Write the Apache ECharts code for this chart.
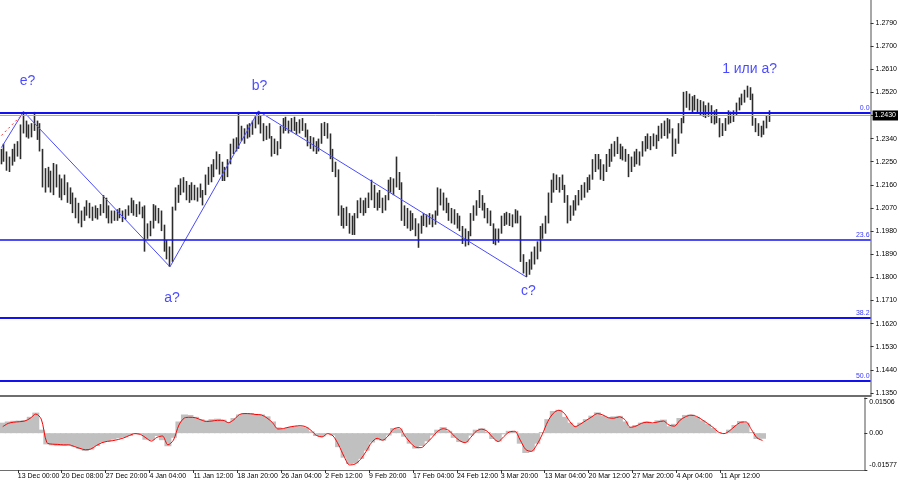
<!DOCTYPE html>
<html><head><meta charset="utf-8">
<script src="https://cdn.jsdelivr.net/npm/echarts@6/dist/echarts.min.js"></script>
<style>html,body{margin:0;padding:0;background:#fff}#c{width:900px;height:485px}</style>
</head><body><div id="c"></div>
<script>
// ---------- data ----------
const timeLabels = ['13 Dec 00:00','20 Dec 08:00','27 Dec 20:00','4 Jan 04:00','11 Jan 12:00','18 Jan 20:00','26 Jan 04:00','2 Feb 12:00','9 Feb 20:00','17 Feb 04:00','24 Feb 12:00','3 Mar 20:00','13 Mar 04:00','20 Mar 12:00','27 Mar 20:00','4 Apr 04:00','11 Apr 12:00'];

const opens = [
1.2260,1.2285,1.2265,1.2235,1.2255,1.2280,1.2300,1.2290,1.2380,1.2400,
1.2370,1.2360,1.2385,1.2395,1.2350,1.2300,1.2170,1.2190,1.2200,1.2160,
1.2210,1.2175,1.2140,1.2160,1.2130,1.2120,1.2105,1.2070,1.2050,1.2030,
1.2040,1.2060,1.2080,1.2050,1.2060,1.2050,1.2065,1.2075,1.2100,1.2050,
1.2030,1.2045,1.2035,1.2050,1.2045,1.2040,1.2055,1.2070,1.2085,1.2060,
1.2070,1.2060,1.2050,1.1960,1.1990,1.2005,1.2060,1.2050,1.2030,1.2000,
1.1920,1.1890,1.1880,1.2060,1.2120,1.2130,1.2170,1.2150,1.2120,1.2140,
1.2150,1.2115,1.2130,1.2120,1.2130,1.2190,1.2200,1.2225,1.2240,1.2250,
1.2220,1.2200,1.2215,1.2250,1.2300,1.2320,1.2310,1.2350,1.2350,1.2365,
1.2380,1.2370,1.2395,1.2420,1.2410,1.2380,1.2350,1.2370,1.2350,1.2300,
1.2320,1.2310,1.2375,1.2400,1.2390,1.2380,1.2405,1.2385,1.2375,1.2400,
1.2380,1.2360,1.2330,1.2320,1.2310,1.2300,1.2330,1.2380,1.2390,1.2360,
1.2280,1.2230,1.2210,1.2060,1.2030,1.2040,1.2020,1.2000,1.2010,1.2040,
1.2080,1.2070,1.2060,1.2090,1.2110,1.2150,1.2090,1.2110,1.2080,1.2070,
1.2100,1.2160,1.2150,1.2170,1.2190,1.2160,1.2040,1.2050,1.2020,1.2040,
1.2000,1.1990,1.1980,1.2030,1.2020,1.2030,1.2025,1.2020,1.2050,1.2130,
1.2110,1.2080,1.2070,1.2040,1.2050,1.2020,1.2010,1.2000,1.1960,1.1950,
1.1970,1.2030,1.2060,1.2090,1.2110,1.2080,1.2050,1.2030,1.2010,1.1960,
1.1950,1.1975,1.2020,1.2030,1.2040,1.2020,1.2030,1.2045,1.2030,1.1880,
1.1840,1.1830,1.1850,1.1880,1.1900,1.1920,1.1980,1.1990,1.2020,1.2110,
1.2160,1.2170,1.2160,1.2170,1.2150,1.2110,1.2040,1.2060,1.2080,1.2100,
1.2120,1.2140,1.2150,1.2170,1.2190,1.2240,1.2260,1.2240,1.2200,1.2220,
1.2260,1.2280,1.2300,1.2310,1.2320,1.2290,1.2280,1.2270,1.2220,1.2250,
1.2270,1.2260,1.2275,1.2310,1.2330,1.2320,1.2340,1.2330,1.2340,1.2370,
1.2385,1.2380,1.2400,1.2380,1.2300,1.2330,1.2390,1.2410,1.2500,1.2490,
1.2470,1.2490,1.2480,1.2460,1.2470,1.2450,1.2440,1.2460,1.2420,1.2430,
1.2410,1.2370,1.2390,1.2400,1.2430,1.2420,1.2440,1.2470,1.2490,1.2505,
1.2520,1.2530,1.2510,1.2410,1.2380,1.2370,1.2360,1.2400,1.2420];

const highs = [
1.2300,1.2320,1.2290,1.2270,1.2300,1.2320,1.2330,1.2395,1.2445,1.2410,
1.2395,1.2400,1.2444,1.2410,1.2400,1.2300,1.2225,1.2230,1.2215,1.2245,
1.2240,1.2200,1.2185,1.2200,1.2170,1.2150,1.2130,1.2110,1.2090,1.2060,
1.2075,1.2100,1.2090,1.2075,1.2080,1.2070,1.2085,1.2120,1.2110,1.2080,
1.2060,1.2060,1.2065,1.2070,1.2060,1.2065,1.2080,1.2110,1.2100,1.2085,
1.2095,1.2075,1.2080,1.2010,1.2020,1.2085,1.2080,1.2070,1.2060,1.2005,
1.1945,1.1920,1.2075,1.2150,1.2160,1.2185,1.2190,1.2175,1.2160,1.2170,
1.2160,1.2150,1.2165,1.2140,1.2200,1.2230,1.2240,1.2260,1.2290,1.2280,
1.2250,1.2230,1.2260,1.2320,1.2340,1.2345,1.2440,1.2390,1.2380,1.2395,
1.2400,1.2410,1.2430,1.2447,1.2430,1.2400,1.2390,1.2400,1.2350,1.2340,
1.2330,1.2390,1.2420,1.2425,1.2410,1.2420,1.2425,1.2405,1.2415,1.2420,
1.2400,1.2375,1.2350,1.2345,1.2330,1.2340,1.2400,1.2405,1.2400,1.2360,
1.2300,1.2250,1.2220,1.2080,1.2070,1.2075,1.2050,1.2040,1.2050,1.2100,
1.2110,1.2100,1.2110,1.2130,1.2180,1.2160,1.2130,1.2140,1.2110,1.2120,
1.2180,1.2190,1.2185,1.2270,1.2210,1.2170,1.2080,1.2070,1.2060,1.2050,
1.2030,1.2010,1.2040,1.2050,1.2045,1.2050,1.2045,1.2060,1.2150,1.2145,
1.2130,1.2110,1.2090,1.2070,1.2065,1.2050,1.2040,1.2000,1.1990,1.1980,
1.2050,1.2080,1.2100,1.2140,1.2120,1.2090,1.2070,1.2060,1.2010,1.1990,
1.1990,1.2040,1.2050,1.2055,1.2050,1.2045,1.2065,1.2060,1.2040,1.1890,
1.1860,1.1870,1.1900,1.1920,1.1940,1.2000,1.2010,1.2040,1.2130,1.2180,
1.2205,1.2200,1.2190,1.2200,1.2160,1.2120,1.2080,1.2100,1.2120,1.2140,
1.2160,1.2170,1.2190,1.2200,1.2260,1.2280,1.2280,1.2260,1.2240,1.2280,
1.2300,1.2320,1.2330,1.2347,1.2320,1.2310,1.2300,1.2280,1.2270,1.2290,
1.2300,1.2290,1.2330,1.2350,1.2360,1.2350,1.2360,1.2355,1.2390,1.2400,
1.2410,1.2420,1.2415,1.2380,1.2340,1.2400,1.2420,1.2522,1.2525,1.2515,
1.2505,1.2510,1.2495,1.2490,1.2485,1.2470,1.2480,1.2470,1.2450,1.2455,
1.2420,1.2400,1.2420,1.2450,1.2445,1.2450,1.2480,1.2500,1.2515,1.2530,
1.2546,1.2540,1.2515,1.2420,1.2400,1.2390,1.2410,1.2430,1.2450];

const lows = [
1.2240,1.2250,1.2215,1.2210,1.2235,1.2250,1.2270,1.2260,1.2360,1.2345,
1.2340,1.2345,1.2370,1.2335,1.2290,1.2150,1.2130,1.2150,1.2130,1.2120,
1.2150,1.2110,1.2100,1.2120,1.2090,1.2085,1.2050,1.2030,1.2010,1.1995,
1.2020,1.2040,1.2030,1.2020,1.2030,1.2025,1.2040,1.2050,1.2030,1.2010,
1.2010,1.2020,1.2020,1.2030,1.2015,1.2025,1.2040,1.2050,1.2040,1.2035,
1.2045,1.2030,1.1900,1.1950,1.1960,1.1990,1.2020,1.2010,1.1980,1.1900,
1.1870,1.1841,1.1860,1.2060,1.2090,1.2120,1.2130,1.2100,1.2090,1.2100,
1.2100,1.2095,1.2110,1.2080,1.2120,1.2160,1.2170,1.2190,1.2220,1.2200,
1.2175,1.2175,1.2190,1.2240,1.2280,1.2290,1.2300,1.2330,1.2320,1.2340,
1.2345,1.2355,1.2380,1.2395,1.2360,1.2330,1.2335,1.2340,1.2270,1.2280,
1.2275,1.2300,1.2360,1.2370,1.2360,1.2365,1.2370,1.2355,1.2360,1.2370,
1.2345,1.2310,1.2300,1.2290,1.2280,1.2290,1.2320,1.2350,1.2340,1.2260,
1.2210,1.2190,1.2040,1.2000,1.1990,1.2000,1.1970,1.1965,1.1965,1.2030,
1.2050,1.2040,1.2050,1.2070,1.2100,1.2070,1.2060,1.2070,1.2050,1.2060,
1.2100,1.2130,1.2120,1.2150,1.2140,1.2020,1.2000,1.1990,1.1980,1.1985,
1.1960,1.1915,1.1970,1.2000,1.1995,1.2005,1.1995,1.2005,1.2040,1.2080,
1.2060,1.2050,1.2020,1.2010,1.2005,1.1990,1.1980,1.1930,1.1920,1.1925,
1.1960,1.2020,1.2040,1.2070,1.2060,1.2030,1.2010,1.2000,1.1930,1.1925,
1.1935,1.1970,1.2000,1.2005,1.2000,1.1995,1.2010,1.2010,1.1860,1.1815,
1.1801,1.1810,1.1830,1.1850,1.1870,1.1900,1.1950,1.1970,1.2010,1.2090,
1.2130,1.2140,1.2130,1.2140,1.2090,1.2010,1.2020,1.2040,1.2060,1.2080,
1.2100,1.2110,1.2130,1.2140,1.2180,1.2210,1.2220,1.2180,1.2175,1.2210,
1.2230,1.2250,1.2270,1.2280,1.2260,1.2255,1.2250,1.2190,1.2210,1.2230,
1.2240,1.2235,1.2270,1.2290,1.2300,1.2295,1.2310,1.2300,1.2330,1.2340,
1.2350,1.2340,1.2360,1.2270,1.2280,1.2320,1.2360,1.2400,1.2460,1.2450,
1.2440,1.2450,1.2440,1.2430,1.2425,1.2420,1.2425,1.2400,1.2395,1.2400,
1.2345,1.2350,1.2370,1.2395,1.2400,1.2405,1.2430,1.2450,1.2470,1.2480,
1.2500,1.2490,1.2390,1.2365,1.2350,1.2345,1.2355,1.2380,1.2405];

const closes = [
1.2285,1.2265,1.2235,1.2255,1.2280,1.2300,1.2290,1.2380,1.2400,1.2370,
1.2360,1.2385,1.2395,1.2350,1.2300,1.2170,1.2190,1.2200,1.2160,1.2210,
1.2175,1.2140,1.2160,1.2130,1.2120,1.2105,1.2070,1.2050,1.2030,1.2040,
1.2060,1.2080,1.2050,1.2060,1.2050,1.2065,1.2075,1.2100,1.2050,1.2030,
1.2045,1.2035,1.2050,1.2045,1.2040,1.2055,1.2070,1.2085,1.2060,1.2070,
1.2060,1.2050,1.1960,1.1990,1.2005,1.2060,1.2050,1.2030,1.2000,1.1920,
1.1890,1.1880,1.2060,1.2120,1.2130,1.2170,1.2150,1.2120,1.2140,1.2150,
1.2115,1.2130,1.2120,1.2130,1.2190,1.2200,1.2225,1.2240,1.2250,1.2220,
1.2200,1.2215,1.2250,1.2300,1.2320,1.2310,1.2350,1.2350,1.2365,1.2380,
1.2370,1.2395,1.2420,1.2410,1.2380,1.2350,1.2370,1.2350,1.2300,1.2320,
1.2310,1.2375,1.2400,1.2390,1.2380,1.2405,1.2385,1.2375,1.2400,1.2380,
1.2360,1.2330,1.2320,1.2310,1.2300,1.2330,1.2380,1.2390,1.2360,1.2280,
1.2230,1.2210,1.2060,1.2030,1.2040,1.2020,1.2000,1.2010,1.2040,1.2080,
1.2070,1.2060,1.2090,1.2110,1.2150,1.2090,1.2110,1.2080,1.2070,1.2100,
1.2160,1.2150,1.2170,1.2190,1.2160,1.2040,1.2050,1.2020,1.2040,1.2000,
1.1990,1.1980,1.2030,1.2020,1.2030,1.2025,1.2020,1.2050,1.2130,1.2110,
1.2080,1.2070,1.2040,1.2050,1.2020,1.2010,1.2000,1.1960,1.1950,1.1970,
1.2030,1.2060,1.2090,1.2110,1.2080,1.2050,1.2030,1.2010,1.1960,1.1950,
1.1975,1.2020,1.2030,1.2040,1.2020,1.2030,1.2045,1.2030,1.1880,1.1840,
1.1830,1.1850,1.1880,1.1900,1.1920,1.1980,1.1990,1.2020,1.2110,1.2160,
1.2170,1.2160,1.2170,1.2150,1.2110,1.2040,1.2060,1.2080,1.2100,1.2120,
1.2140,1.2150,1.2170,1.2190,1.2240,1.2260,1.2240,1.2200,1.2220,1.2260,
1.2280,1.2300,1.2310,1.2320,1.2290,1.2280,1.2270,1.2220,1.2250,1.2270,
1.2260,1.2275,1.2310,1.2330,1.2320,1.2340,1.2330,1.2340,1.2370,1.2385,
1.2380,1.2400,1.2380,1.2300,1.2330,1.2390,1.2410,1.2500,1.2490,1.2470,
1.2490,1.2480,1.2460,1.2470,1.2450,1.2440,1.2460,1.2420,1.2430,1.2410,
1.2370,1.2390,1.2400,1.2430,1.2420,1.2440,1.2470,1.2490,1.2505,1.2520,
1.2530,1.2510,1.2410,1.2380,1.2370,1.2360,1.2400,1.2420,1.2430];

const macdHist = [
0.0045,0.0050,0.0053,0.0054,0.0056,0.0070,0.0088,0.0015,-0.0048,-0.0052,
-0.0054,-0.0055,-0.0053,-0.0058,-0.0068,-0.0076,-0.0070,-0.0055,-0.0040,-0.0036,
-0.0028,-0.0022,-0.0018,-0.0012,-0.0004,-0.0006,-0.0028,-0.0030,-0.0012,-0.0030,
-0.0056,-0.0020,0.0050,0.0080,0.0078,0.0070,0.0060,0.0055,0.0060,0.0062,
0.0058,0.0048,0.0065,0.0080,0.0086,0.0086,0.0082,0.0080,0.0072,0.0050,
0.0025,0.0018,0.0026,0.0030,0.0029,0.0025,0.0008,-0.0012,-0.0015,-0.0003,
-0.0010,-0.0060,-0.0105,-0.0132,-0.0130,-0.0110,-0.0075,-0.0040,-0.0028,-0.0032,
-0.0010,0.0022,0.0020,-0.0015,-0.0045,-0.0066,-0.0055,-0.0035,-0.0010,0.0015,
0.0026,0.0010,-0.0020,-0.0038,-0.0040,-0.0010,0.0015,0.0021,0.0005,-0.0025,
-0.0035,-0.0005,0.0010,0.0008,-0.0045,-0.0085,-0.0078,-0.0045,0.0005,0.0060,
0.0095,0.0100,0.0070,0.0045,0.0032,0.0045,0.0060,0.0075,0.0089,0.0075,
0.0068,0.0072,0.0074,0.0050,0.0028,0.0035,0.0045,0.0050,0.0042,0.0055,
0.0058,0.0030,0.0040,0.0065,0.0078,0.0080,0.0070,0.0055,0.0040,0.0022,
0.0003,-0.0002,0.0015,0.0035,0.0052,0.0045,0.0005,-0.0025,-0.0024];

const macdSignal = [
0.0028,0.0042,0.0047,0.0049,0.0052,0.0064,0.0082,0.0060,-0.0040,-0.0047,
-0.0048,-0.0050,-0.0050,-0.0057,-0.0065,-0.0071,-0.0068,-0.0053,-0.0041,-0.0035,
-0.0032,-0.0027,-0.0020,-0.0010,-0.0002,-0.0005,-0.0020,-0.0034,-0.0018,-0.0012,
-0.0050,-0.0030,0.0035,0.0065,0.0068,0.0066,0.0057,0.0050,0.0052,0.0055,
0.0055,0.0045,0.0058,0.0080,0.0084,0.0083,0.0080,0.0078,0.0065,0.0045,
0.0018,0.0020,0.0026,0.0030,0.0032,0.0028,0.0012,-0.0010,-0.0016,-0.0002,
-0.0012,-0.0050,-0.0100,-0.0136,-0.0132,-0.0112,-0.0078,-0.0040,-0.0022,-0.0030,
-0.0012,0.0018,0.0024,-0.0010,-0.0040,-0.0060,-0.0062,-0.0042,-0.0018,0.0008,
0.0019,0.0012,-0.0012,-0.0032,-0.0041,-0.0018,0.0008,0.0017,0.0008,-0.0018,
-0.0036,-0.0015,0.0005,0.0008,-0.0030,-0.0070,-0.0078,-0.0050,-0.0005,0.0050,
0.0085,0.0098,0.0085,0.0050,0.0028,0.0040,0.0055,0.0070,0.0084,0.0078,
0.0066,0.0064,0.0070,0.0058,0.0025,0.0030,0.0042,0.0047,0.0044,0.0048,
0.0052,0.0035,0.0030,0.0055,0.0070,0.0077,0.0072,0.0058,0.0042,0.0025,
0.0005,-0.0002,0.0010,0.0030,0.0046,0.0048,0.0015,-0.0020,-0.0031];

const priceTicks = [1.1350,1.1440,1.1530,1.1620,1.1710,1.1800,1.1890,1.1980,1.2070,1.2160,1.2250,1.2340,1.2430,1.2520,1.2610,1.2700,1.2790,1.2880];
const macdTicks = [0.01506, 0.00, -0.01577];

const fibNames  = ['0.0','23.6','38.2','50.0'];
const fibPrices = [1.2442, 1.1948, 1.1643, 1.1398];

const pivotBars   = [8, 61, 93, 190, 270];
const pivotPrices = [1.2445, 1.1841, 1.2447, 1.1801, 1.2546];
const pivotLabels = ['e?', 'a?', 'b?', 'c?', '1 или a?'];
const leadBars = [0, 8],  leadPrices = [1.2305, 1.2445];
const redBars  = [0, 7],  redPrices  = [1.2352, 1.2428];

// ---------- layout / style ----------
const FONT = "'Liberation Sans', Arial, sans-serif";
const SLOTS = 315, MACD_SLOTS = 157, LABEL_START = 6, LABEL_EVERY = 16;
const BLUE = '#1212f0', WAVE = '#4a4aff', BAR = '#2c2c2c';
const pivotLabelStyle = [
  {position:'top', distance:23, offset:[4,0]},
  {position:'bottom', distance:24, offset:[2,0]},
  {position:'top', distance:18, offset:[1,0]},
  {position:'bottom', distance:7, offset:[2,0]},
  {position:'top', distance:10, offset:[2,0]}
];
const fibWidths = [2, 1.5, 2, 2];

const slots = Array.from({length: SLOTS}, (_, i) => String(i));
const macdSlots = Array.from({length: MACD_SLOTS}, (_, i) => String(i));
const ohlc = closes.map((c, i) => [opens[i], c, lows[i], highs[i]]);
const lastPrice = closes[closes.length - 1];
const showLabel = (i) => i >= LABEL_START && (i - LABEL_START) % LABEL_EVERY === 0 && (i - LABEL_START) / LABEL_EVERY < timeLabels.length;

const levelLines = fibPrices.map((p, i) => ({
  yAxis: p,
  lineStyle:{color:BLUE, width:fibWidths[i], type:'solid'},
  label:{show:true, position:'insideEndTop', formatter: fibNames[i], color:'#3a3aff', fontSize:7, distance:[1,1], fontFamily:FONT}
})).concat([{
  yAxis: lastPrice,
  lineStyle:{color:'#a9a9a9', width:1, type:'solid'},
  label:{show:true, position:'end', formatter: lastPrice.toFixed(4), color:'#fff', backgroundColor:'#000',
         padding:[2,2,1,2], fontSize:7, distance:2, fontFamily:FONT}
}]);

const chart = echarts.init(document.getElementById('c'), null, {renderer: 'canvas'});
chart.setOption({
  animation: false,
  backgroundColor: '#ffffff',
  textStyle: {fontFamily: FONT},
  grid: [
    {left: 0, right: 29, top: 0, height: 396},
    {left: 0, right: 29, top: 398, height: 72}
  ],
  xAxis: [
    {type:'category', gridIndex:0, data: slots, boundaryGap:true,
     axisLine:{show:true, onZero:false, lineStyle:{color:'#6e6e6e', width:2}},
     axisTick:{show:false}, axisLabel:{show:false}, splitLine:{show:false}},
    {type:'category', gridIndex:1, data: macdSlots, boundaryGap:true, position:'top',
     axisLine:{show:false}, axisTick:{show:false}, axisLabel:{show:false}, splitLine:{show:false}},
    {type:'category', gridIndex:1, data: slots, boundaryGap:true, position:'bottom',
     axisLine:{show:true, onZero:false, lineStyle:{color:'#6e6e6e', width:1}},
     axisTick:{show:true, alignWithLabel:true, length:3, interval:(i) => showLabel(i), lineStyle:{color:'#333'}},
     axisLabel:{show:true, interval:(i) => showLabel(i), align:'left', margin:3, fontSize:7, color:'#000', fontFamily:FONT,
       formatter:(v, i) => timeLabels[(i - LABEL_START) / LABEL_EVERY] || ''},
     splitLine:{show:false}}
  ],
  yAxis: [
    {type:'value', gridIndex:0, position:'right', min:1.13381, max:1.28795,
     axisLine:{show:true, lineStyle:{color:'#8a8a8a', width:1.5}},
     axisTick:{show:true, length:3, customValues: priceTicks, lineStyle:{color:'#333'}},
     axisLabel:{show:true, customValues: priceTicks, margin:5, fontSize:7, color:'#000', fontFamily:FONT,
       formatter:(v) => v.toFixed(4)},
     splitLine:{show:false}},
    {type:'value', gridIndex:1, position:'right', min:-0.01577, max:0.01506,
     axisLine:{show:true, lineStyle:{color:'#8a8a8a', width:1.5}},
     axisTick:{show:true, length:3, customValues: macdTicks, lineStyle:{color:'#333'}},
     axisLabel:{show:true, customValues: macdTicks, margin:5, fontSize:7, color:'#000', fontFamily:FONT,
       formatter:(v) => v > 0 ? '{t|' + v.toFixed(5) + '}' : (v < 0 ? '{b|' + v.toFixed(5) + '}' : v.toFixed(2)),
       rich:{t:{padding:[9,0,0,0], fontSize:7, color:'#000', fontFamily:FONT},
             b:{padding:[0,0,9,0], fontSize:7, color:'#000', fontFamily:FONT}}},
     splitLine:{show:false}}
  ],
  series: [
    {name:'price', type:'candlestick', xAxisIndex:0, yAxisIndex:0, data: ohlc, barWidth:1,
     itemStyle:{color:BAR, color0:BAR, borderColor:BAR, borderColor0:BAR, borderWidth:1.6}},
    {name:'lead', type:'line', xAxisIndex:0, yAxisIndex:0, symbol:'none',
     data: leadBars.map((b, i) => [String(b), leadPrices[i]]), lineStyle:{color:WAVE, width:1}},
    {name:'trend', type:'line', xAxisIndex:0, yAxisIndex:0, symbol:'none',
     data: redBars.map((b, i) => [String(b), redPrices[i]]), lineStyle:{color:'#ff3030', width:1, type:[2,3]}},
    {name:'waves', type:'line', xAxisIndex:0, yAxisIndex:0, symbol:'none', z:3,
     data: pivotBars.slice(0, 4).map((b, i) => [String(b), pivotPrices[i]]), lineStyle:{color:WAVE, width:1},
     markLine:{silent:true, precision:4, symbol:['none','none'], animation:false, data: levelLines}},
    {name:'waveLabels', type:'scatter', xAxisIndex:0, yAxisIndex:0, symbolSize:0, silent:true,
     data: pivotBars.map((b, i) => ({
       value:[String(b), pivotPrices[i]],
       label:Object.assign({show:true, formatter: pivotLabels[i], color:'#1c1cff', fontSize:14, fontFamily:FONT}, pivotLabelStyle[i])
     }))},
    {name:'macd', type:'bar', xAxisIndex:1, yAxisIndex:1, data: macdHist, barWidth:7,
     itemStyle:{color:'#c0c0c0'}},
    {name:'signal', type:'line', xAxisIndex:1, yAxisIndex:1, data: macdSignal, symbol:'none', smooth:0.3,
     lineStyle:{color:'#ff0000', width:1}}
  ]
});
</script>
</body></html>
